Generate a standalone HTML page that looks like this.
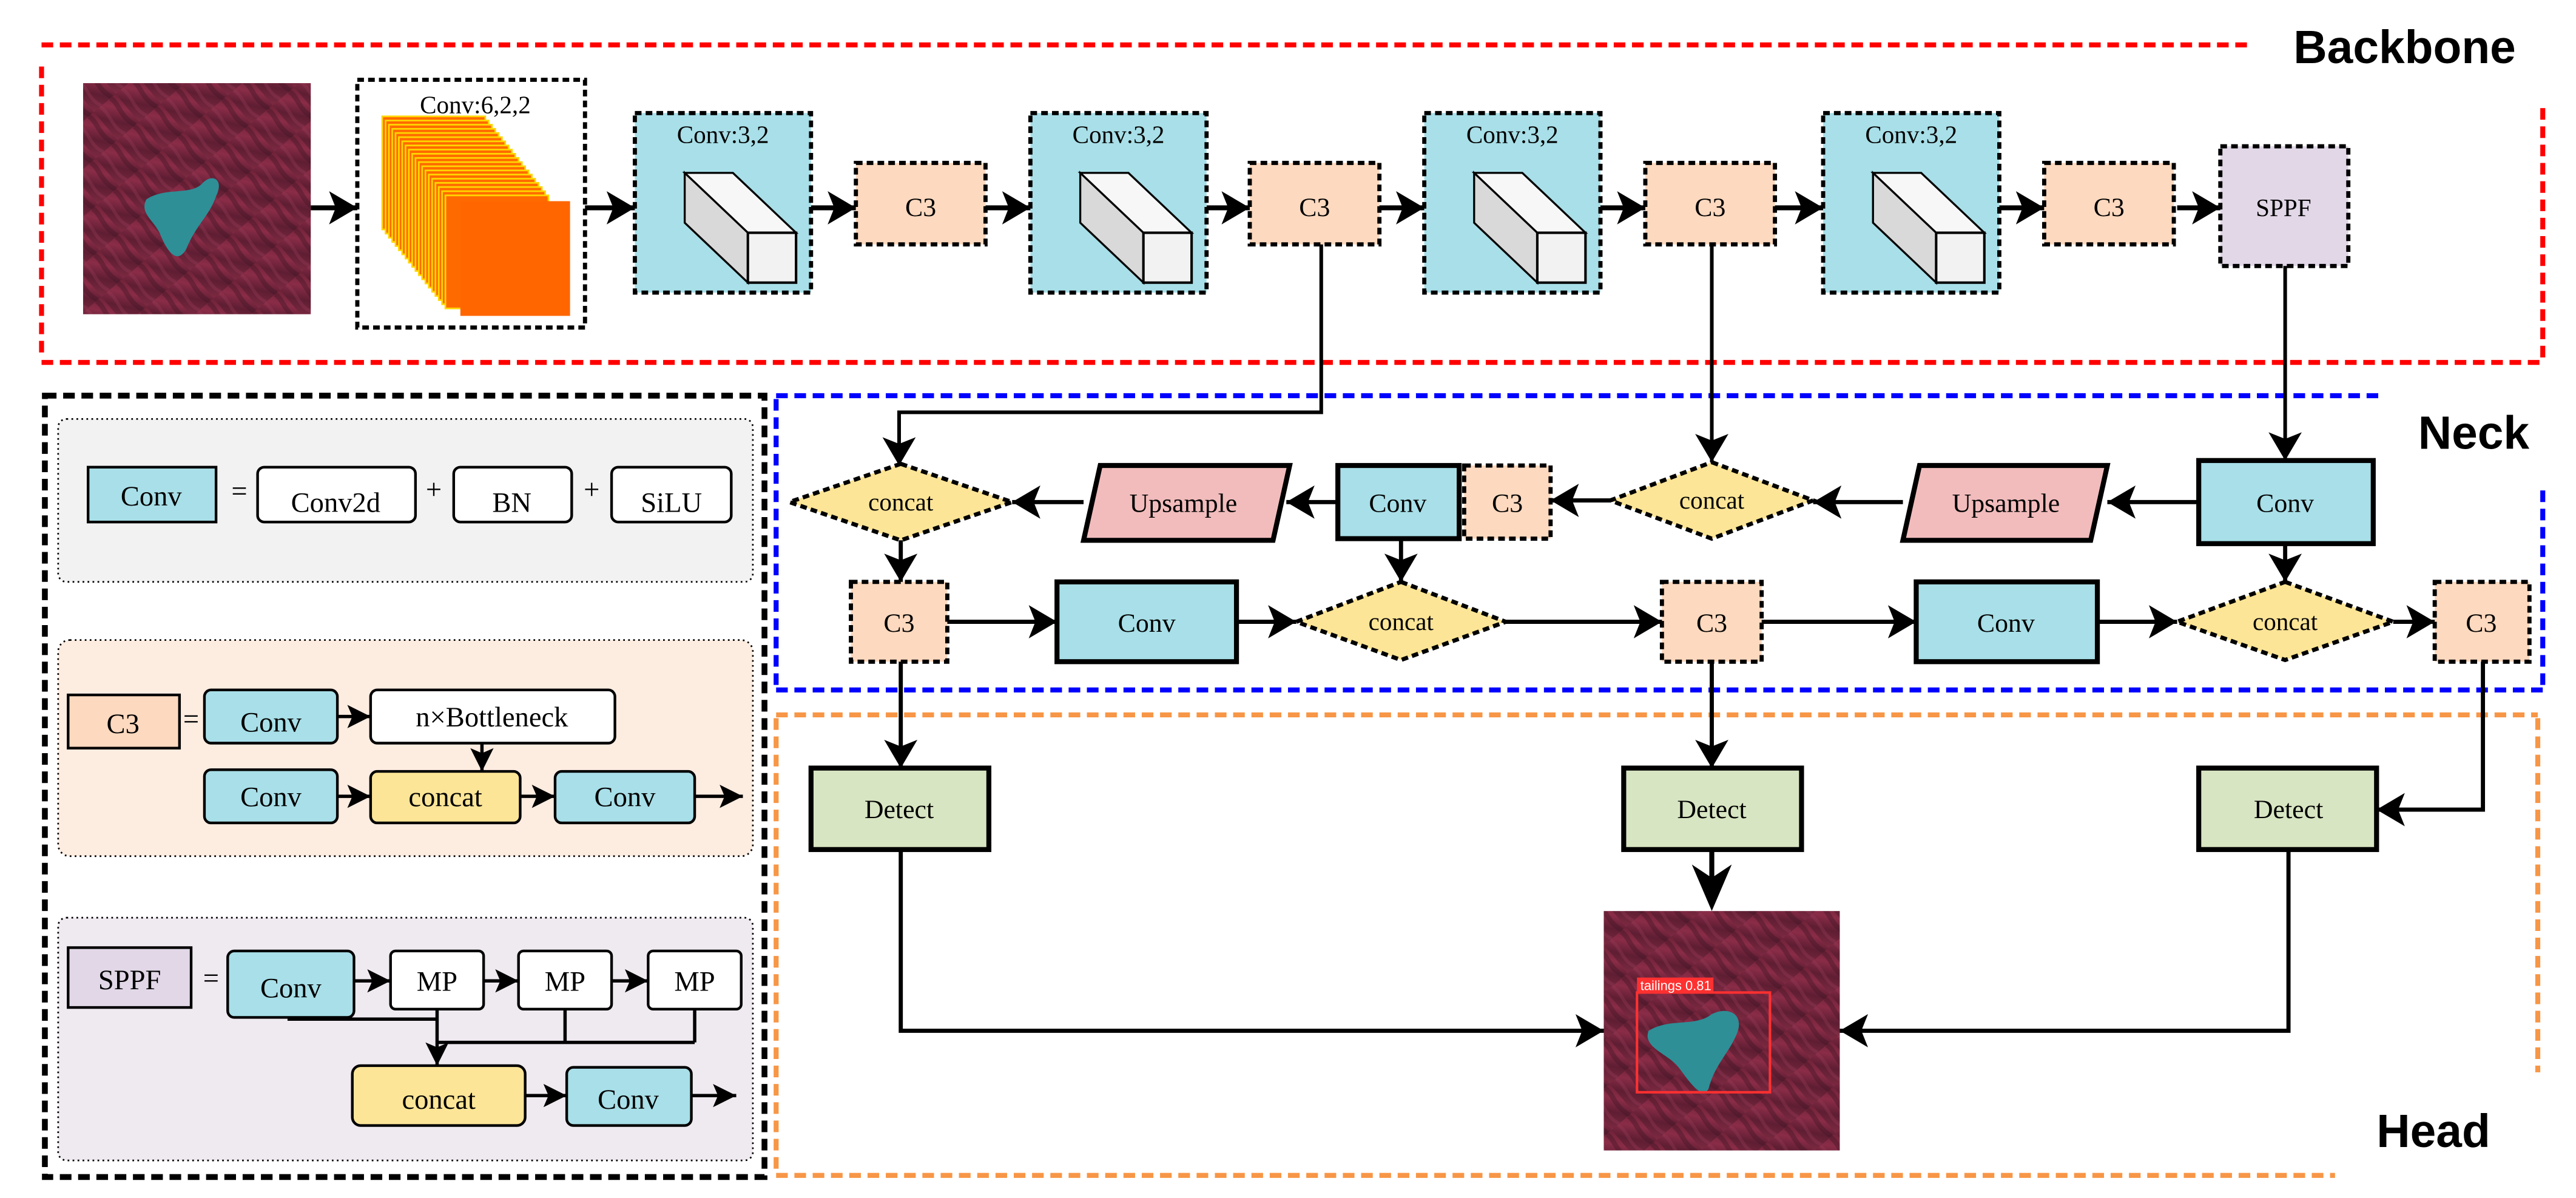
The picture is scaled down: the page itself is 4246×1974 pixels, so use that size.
<!DOCTYPE html>
<html><head><meta charset="utf-8"><style>
html,body{margin:0;padding:0;background:#fff;}
svg{display:block;}
text{font-family:"Liberation Serif",serif;fill:#000;}
</style></head><body>
<svg width="4246" height="1974" viewBox="0 0 1550 720.6" xmlns="http://www.w3.org/2000/svg">
<defs>
<marker id="a" markerUnits="userSpaceOnUse" markerWidth="20" markerHeight="22" refX="17" refY="11" orient="auto"><path d="M0,1 L17,11 L0,21 L4,11 Z" fill="#000"/></marker>
<marker id="s" markerUnits="userSpaceOnUse" markerWidth="16" markerHeight="16" refX="14" refY="8" orient="auto"><path d="M0,1 L14,8 L0,15 L3,8 Z" fill="#000"/></marker>
<linearGradient id="img" x1="0" y1="0" x2="1" y2="1">
<stop offset="0" stop-color="#6e2238"/><stop offset="0.3" stop-color="#8a2c48"/><stop offset="0.6" stop-color="#5f1e33"/><stop offset="1" stop-color="#7d2a42"/></linearGradient>
<pattern id="rid" width="22" height="17" patternUnits="userSpaceOnUse" patternTransform="rotate(50)"><rect width="22" height="17" fill="url(#img)"/><path d="M0,4 C6,2 12,7 22,3" stroke="#3f1424" stroke-width="3" fill="none" opacity="0.4"/><path d="M0,12 C8,10 14,15 22,11" stroke="#a0405c" stroke-width="2" fill="none" opacity="0.3"/></pattern>
</defs>

<!-- Backbone box -->
<g fill="none" stroke="#ff0000" stroke-width="3" stroke-dasharray="7 4">
<line x1="25" y1="27" x2="1352" y2="27"/>
<line x1="25" y1="218" x2="1530" y2="218"/>
<line x1="25" y1="40" x2="25" y2="215"/>
<line x1="1530" y1="65" x2="1530" y2="215"/>
</g>
<text x="1380" y="38" style="font-family:'Liberation Sans',sans-serif;font-weight:bold;font-size:28px">Backbone</text>

<!-- input image -->
<rect x="50" y="50" width="137" height="139" fill="url(#rid)"/>
<path d="M88,120 C100,112 115,118 122,110 C128,104 135,108 130,118 C126,130 118,135 112,150 C106,160 100,150 96,140 C92,132 84,128 88,120Z" fill="#2e8f97"/>

<!-- Conv 6,2,2 -->
<rect x="215" y="48" width="137" height="149" fill="#fff" stroke="#000" stroke-width="2.5" stroke-dasharray="4 2.5"/>
<text x="286" y="68" font-size="15" text-anchor="middle">Conv:6,2,2</text>
<g stroke="#ffd700" stroke-width="1" fill="#ff6a00">
<rect x="230" y="70" width="62" height="68"/><rect x="232" y="72.5" width="62" height="68"/><rect x="234" y="75" width="62" height="68"/><rect x="236" y="77.5" width="62" height="68"/><rect x="238" y="80" width="62" height="68"/><rect x="240" y="82.5" width="62" height="68"/><rect x="242" y="85" width="62" height="68"/><rect x="244" y="87.5" width="62" height="68"/><rect x="246" y="90" width="62" height="68"/><rect x="248" y="92.5" width="62" height="68"/><rect x="250" y="95" width="62" height="68"/><rect x="252" y="97.5" width="62" height="68"/><rect x="254" y="100" width="62" height="68"/><rect x="256" y="102.5" width="62" height="68"/><rect x="258" y="105" width="62" height="68"/><rect x="260" y="107.5" width="62" height="68"/><rect x="262" y="110" width="62" height="68"/><rect x="264" y="112.5" width="62" height="68"/><rect x="266" y="115" width="62" height="68"/><rect x="268" y="117.5" width="62" height="68"/>
</g>
<rect x="277" y="121" width="66" height="69" fill="#ff6600"/>

<!-- backbone arrows -->
<g stroke="#000" stroke-width="3" marker-end="url(#a)">
<line x1="187" y1="125" x2="215" y2="125"/>
<line x1="352" y1="125" x2="382" y2="125"/>
<line x1="488" y1="125" x2="515" y2="125"/>
<line x1="593" y1="125" x2="620" y2="125"/>
<line x1="726" y1="125" x2="752" y2="125"/>
<line x1="830" y1="125" x2="857" y2="125"/>
<line x1="963" y1="125" x2="990" y2="125"/>
<line x1="1068" y1="125" x2="1097" y2="125"/>
<line x1="1203" y1="125" x2="1230" y2="125"/>
<line x1="1310" y1="125" x2="1336" y2="125"/>
</g>

<!-- conv 3,2 boxes -->
<g id="cv">
<rect x="382" y="68" width="106" height="108" fill="#a8dfe8" stroke="#000" stroke-width="2.5" stroke-dasharray="4 2.5"/>
<text x="435" y="86" font-size="15" text-anchor="middle">Conv:3,2</text>
<polygon points="412,104 441,104 479,140 450,140" fill="#f7f7f7" stroke="#000" stroke-width="1.2"/>
<polygon points="412,104 450,140 450,170 412,134" fill="#d9d9d9" stroke="#000" stroke-width="1.2"/>
<rect x="450" y="140" width="29" height="30" fill="#f2f2f2" stroke="#000" stroke-width="1.5"/>
</g>
<use href="#cv" x="238"/><use href="#cv" x="475"/><use href="#cv" x="715"/>

<!-- C3 boxes -->
<g id="c3"><rect x="515" y="98" width="78" height="49" fill="#fdd9bf" stroke="#000" stroke-width="2.5" stroke-dasharray="4 2.5"/>
<text x="554" y="130" font-size="16" text-anchor="middle">C3</text></g>
<use href="#c3" x="237"/><use href="#c3" x="475"/><use href="#c3" x="715"/>

<rect x="1336" y="88" width="77" height="72" fill="#e1d7e7" stroke="#000" stroke-width="2.5" stroke-dasharray="4 2.5"/>
<text x="1374" y="130" font-size="15" text-anchor="middle">SPPF</text>

<!-- Left legend box -->
<rect x="27" y="238" width="433" height="470" fill="none" stroke="#000" stroke-width="3.5" stroke-dasharray="7 4"/>
<rect x="35" y="252" width="418" height="98" rx="5" fill="#f2f2f2" stroke="#000" stroke-width="1" stroke-dasharray="1 2"/>
<rect x="35" y="385" width="418" height="130" rx="7" fill="#fdece0" stroke="#000" stroke-width="1" stroke-dasharray="1 2"/>
<rect x="35" y="552" width="418" height="146" rx="5" fill="#efe9f0" stroke="#000" stroke-width="1" stroke-dasharray="1 2"/>

<g stroke="#000" stroke-width="1.6">
<rect x="53" y="281" width="77" height="33" fill="#a8dfe8"/>
<rect x="155" y="281" width="95" height="33" rx="4" fill="#fff"/>
<rect x="273" y="281" width="71" height="33" rx="4" fill="#fff"/>
<rect x="368" y="281" width="72" height="33" rx="4" fill="#fff"/>
</g>
<g font-size="17" text-anchor="middle">
<text x="91" y="304">Conv</text><text x="144" y="301">=</text>
<text x="202" y="308">Conv2d</text><text x="261" y="300">+</text>
<text x="308" y="308">BN</text><text x="356" y="300">+</text>
<text x="404" y="308">SiLU</text>
</g>

<g stroke="#000" stroke-width="1.6">
<rect x="41" y="418" width="67" height="32" fill="#fdd9bf"/>
<rect x="123" y="415" width="80" height="32" rx="4" fill="#a8dfe8"/>
<rect x="223" y="415" width="147" height="32" rx="4" fill="#fff"/>
<rect x="123" y="463" width="80" height="32" rx="4" fill="#a8dfe8"/>
<rect x="223" y="464" width="90" height="31" rx="4" fill="#fde597"/>
<rect x="334" y="464" width="84" height="31" rx="4" fill="#a8dfe8"/>
</g>
<g stroke="#000" stroke-width="2" marker-end="url(#s)">
<line x1="203" y1="431" x2="223" y2="431"/>
<line x1="290" y1="447" x2="290" y2="464"/>
<line x1="203" y1="479" x2="223" y2="479"/>
<line x1="313" y1="479" x2="334" y2="479"/>
<line x1="418" y1="479" x2="447" y2="479"/>
</g>
<g font-size="17" text-anchor="middle">
<text x="74" y="441">C3</text><text x="115" y="438">=</text>
<text x="163" y="440">Conv</text><text x="296" y="437">n×Bottleneck</text>
<text x="163" y="485">Conv</text><text x="268" y="485">concat</text><text x="376" y="485">Conv</text>
</g>

<g stroke="#000" stroke-width="1.6">
<rect x="41" y="570" width="74" height="36" fill="#e1d7e7"/>
<rect x="137" y="572" width="76" height="40" rx="4" fill="#a8dfe8"/>
<rect x="235" y="572" width="56" height="35" rx="3" fill="#fff"/>
<rect x="312" y="572" width="56" height="35" rx="3" fill="#fff"/>
<rect x="390" y="572" width="56" height="35" rx="3" fill="#fff"/>
<rect x="212" y="641" width="104" height="36" rx="5" fill="#fde597"/>
<rect x="341" y="642" width="75" height="35" rx="4" fill="#a8dfe8"/>
</g>
<g stroke="#000" stroke-width="2" fill="none">
<polyline points="173,613 263,613"/>
<polyline points="263,627 418,627"/>
<line x1="340" y1="607" x2="340" y2="627"/>
<line x1="418" y1="607" x2="418" y2="627"/>
<line x1="263" y1="607" x2="263" y2="641" marker-end="url(#s)"/>
<line x1="213" y1="590" x2="235" y2="590" marker-end="url(#s)"/>
<line x1="291" y1="590" x2="312" y2="590" marker-end="url(#s)"/>
<line x1="368" y1="590" x2="390" y2="590" marker-end="url(#s)"/>
<line x1="316" y1="659" x2="341" y2="659" marker-end="url(#s)"/>
<line x1="416" y1="659" x2="443" y2="659" marker-end="url(#s)"/>
</g>
<g font-size="17" text-anchor="middle">
<text x="78" y="595">SPPF</text><text x="127" y="594">=</text>
<text x="175" y="600">Conv</text><text x="263" y="596">MP</text><text x="340" y="596">MP</text><text x="418" y="596">MP</text>
<text x="264" y="667">concat</text><text x="378" y="667">Conv</text>
</g>

<!-- Neck box -->
<g fill="none" stroke="#0000ff" stroke-width="3" stroke-dasharray="7 4">
<line x1="467" y1="238" x2="1432" y2="238"/>
<line x1="467" y1="415" x2="1530" y2="415"/>
<line x1="467" y1="240" x2="467" y2="413"/>
<line x1="1530" y1="295" x2="1530" y2="413"/>
</g>
<text x="1455" y="270" style="font-family:'Liberation Sans',sans-serif;font-weight:bold;font-size:28px">Neck</text>

<!-- Head box -->
<g fill="none" stroke="#f79646" stroke-width="3" stroke-dasharray="7 4">
<line x1="467" y1="430" x2="1527" y2="430"/>
<line x1="467" y1="707" x2="1405" y2="707"/>
<line x1="467" y1="432" x2="467" y2="705"/>
<line x1="1527" y1="432" x2="1527" y2="645"/>
</g>
<text x="1430" y="690" style="font-family:'Liberation Sans',sans-serif;font-weight:bold;font-size:28px">Head</text>

<!-- backbone to neck connectors -->
<g stroke="#000" stroke-width="2.2" fill="none">
<polyline points="795,147 795,248 541,248 541,280" marker-end="url(#a)"/>
<line x1="1030" y1="147" x2="1030" y2="278" marker-end="url(#a)"/>
<line x1="1375" y1="160" x2="1375" y2="277" marker-end="url(#a)"/>
</g>

<!-- neck row 1 -->
<g stroke="#000" stroke-width="2.5" stroke-dasharray="4 2.5" fill="#fde597">
<polygon points="542,279 609,302 542,325 475,302"/>
<polygon points="1030,278 1091,301 1030,324 969,301"/>
<polygon points="843,350 906,374 843,397 780,374"/>
<polygon points="1375,350 1440,374 1375,397 1310,374"/>
</g>
<g stroke="#000" stroke-width="3">
<polygon points="662,280 776,280 766,325 652,325" fill="#f2bcbc"/>
<polygon points="1155,280 1268,280 1258,325 1145,325" fill="#f2bcbc"/>
<rect x="805" y="280" width="73" height="44" fill="#a8dfe8"/>
<rect x="1323" y="277" width="105" height="50" fill="#a8dfe8"/>
<rect x="636" y="350" width="108" height="48" fill="#a8dfe8"/>
<rect x="1153" y="350" width="109" height="48" fill="#a8dfe8"/>
<rect x="488" y="462" width="107" height="49" fill="#d8e5c2"/>
<rect x="977" y="462" width="107" height="49" fill="#d8e5c2"/>
<rect x="1323" y="462" width="107" height="49" fill="#d8e5c2"/>
</g>
<g stroke="#000" stroke-width="2.5" stroke-dasharray="4 2.5" fill="#fdd9bf">
<rect x="881" y="280" width="52" height="44"/>
<rect x="512" y="350" width="58" height="48"/>
<rect x="1000" y="350" width="60" height="48"/>
<rect x="1465" y="350" width="57" height="48"/>
</g>
<g font-size="15" text-anchor="middle">
<text x="542" y="307">concat</text><text x="1030" y="306">concat</text>
<text x="843" y="379">concat</text><text x="1375" y="379">concat</text>
<text x="712" y="308" font-size="16">Upsample</text><text x="1207" y="308" font-size="16">Upsample</text>
<text x="841" y="308" font-size="16">Conv</text><text x="907" y="308" font-size="16">C3</text>
<text x="1375" y="308" font-size="16">Conv</text>
<text x="541" y="380" font-size="16">C3</text><text x="690" y="380" font-size="16">Conv</text>
<text x="1030" y="380" font-size="16">C3</text><text x="1207" y="380" font-size="16">Conv</text>
<text x="1493" y="380" font-size="16">C3</text>
<text x="541" y="492" font-size="16">Detect</text><text x="1030" y="492" font-size="16">Detect</text><text x="1377" y="492" font-size="16">Detect</text>
</g>

<g stroke="#000" stroke-width="2.5" fill="none" marker-end="url(#a)">
<line x1="1323" y1="302" x2="1268" y2="302"/>
<line x1="1145" y1="302" x2="1091" y2="302"/>
<line x1="969" y1="301" x2="933" y2="301"/>
<line x1="805" y1="302" x2="774" y2="302"/>
<line x1="652" y1="302" x2="609" y2="302"/>
<line x1="542" y1="325" x2="542" y2="350"/>
<line x1="843" y1="324" x2="843" y2="350"/>
<line x1="1375" y1="327" x2="1375" y2="350"/>
<line x1="570" y1="374" x2="636" y2="374"/>
<line x1="744" y1="374" x2="780" y2="374"/>
<line x1="906" y1="374" x2="1000" y2="374"/>
<line x1="1060" y1="374" x2="1153" y2="374"/>
<line x1="1262" y1="374" x2="1310" y2="374"/>
<line x1="1440" y1="374" x2="1465" y2="374"/>
<line x1="542" y1="398" x2="542" y2="462"/>
<line x1="1030" y1="398" x2="1030" y2="462"/>
<polyline points="1494,398 1494,487 1430,487"/>
<polyline points="542,511 542,620 965,620"/>
<polyline points="1377,511 1377,620 1107,620"/>
</g>
<line x1="1030" y1="511" x2="1030" y2="528" stroke="#000" stroke-width="3"/>
<polygon points="1018,520 1030,528 1042,520 1030,548" fill="#000"/>

<!-- output image -->
<rect x="965" y="548" width="142" height="144" fill="url(#rid)"/>
<path d="M992,620 C1005,612 1020,618 1030,610 C1040,605 1050,610 1045,622 C1040,634 1032,640 1028,655 C1024,662 1016,650 1010,642 C1004,634 988,630 992,620Z" fill="#2e8f97"/>
<rect x="985" y="597" width="80" height="60" fill="none" stroke="#ff3030" stroke-width="1.5"/>
<rect x="985" y="588" width="46" height="9" fill="#ff3030"/>
<text x="987" y="595.5" style="font-family:'Liberation Sans',sans-serif;font-size:8px;fill:#fff">tailings 0.81</text>
</svg>
</body></html>
